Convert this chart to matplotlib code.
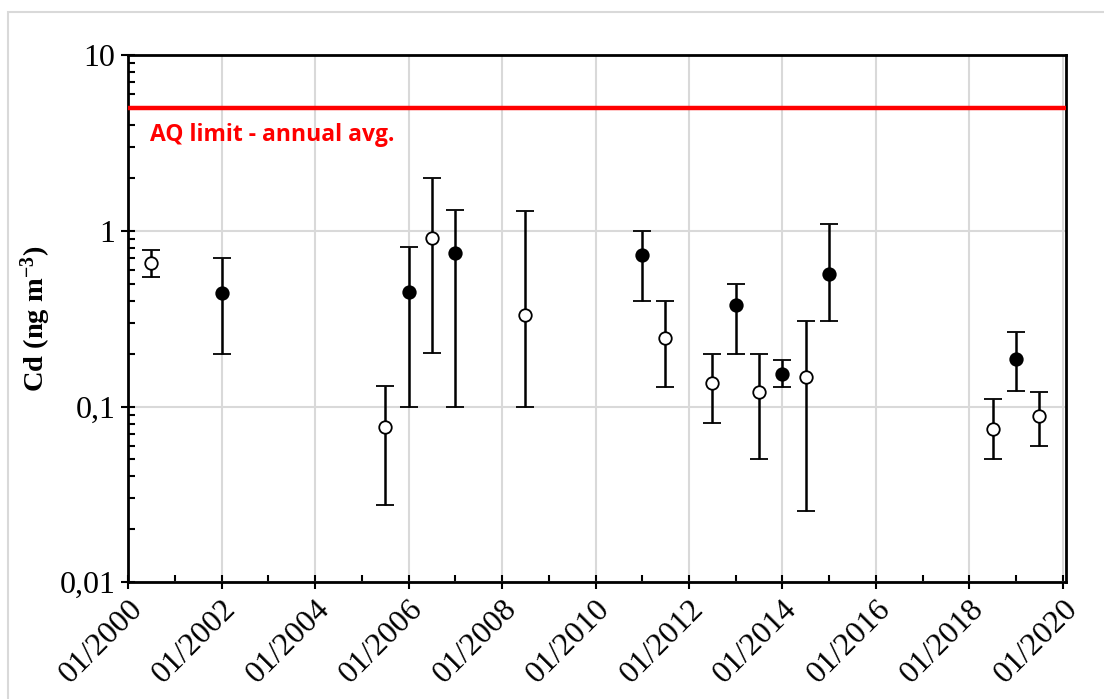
"""
Cd concentrations with min/max ranges, log scale
"""

import matplotlib
matplotlib.use("Agg")
import matplotlib.pyplot as plt
import matplotlib.dates as mdates
import matplotlib.ticker as ticker
from matplotlib.patches import Rectangle
import numpy as np
import pandas as pd


# sampling dates (January = filled, July = open)
dates_filled = ["2002-01-01", "2006-01-01", "2007-01-01", "2011-01-01", "2013-01-01",
                "2014-01-01", "2015-01-01", "2019-01-01"]
cd_filled = [0.446, 0.448, 0.746, 0.73, 0.377, 0.153, 0.571, 0.186]
lo_filled = [0.20, 0.10, 0.10, 0.40, 0.20, 0.13, 0.307, 0.122]
hi_filled = [0.70, 0.81, 1.32, 1.00, 0.50, 0.184, 1.09, 0.265]

dates_open = ["2000-07-01", "2005-07-01", "2006-07-01", "2008-07-01", "2011-07-01",
              "2012-07-01", "2013-07-01", "2014-07-01", "2018-07-01", "2019-07-01"]
cd_open = [0.655, 0.0766, 0.916, 0.33, 0.247, 0.137, 0.121, 0.148, 0.075, 0.0885]
lo_open = [0.547, 0.0274, 0.203, 0.10, 0.13, 0.0806, 0.0505, 0.0255, 0.0505, 0.06]
hi_open = [0.783, 0.1306, 2.0, 1.29, 0.40, 0.20, 0.20, 0.307, 0.110, 0.1217]

aq_limit = 5.0
aq_label = "AQ limit - annual avg."
ytick_vals = [0.01, 0.1, 1, 10]
ytick_labels = ["0,01", "0,1", "1", "10"]


fig = plt.figure(figsize=(11.04, 6.99), dpi=100)
# light gray chart frame
fig.patches.append(Rectangle((8 / 1104, -0.1), 1.2, 1.1 - 12 / 699, transform=fig.transFigure,
                             fill=False, edgecolor="#d9d9d9", linewidth=1.5))

ax = fig.add_axes([0.116, 0.167, 0.8495, 0.754])

# limit line
ax.axhline(aq_limit, color="#ff0000", linewidth=3.2, zorder=3)
ax.text(pd.Timestamp("2000-06-20"), 3.25, aq_label, color="#ff0000", fontsize=16.5,
        fontweight="bold", family="Open Sans", va="baseline", ha="left")


def draw_series(dates, vals, lo, hi, face):
    x = pd.to_datetime(dates)
    vals = np.array(vals)
    yerr = [vals - np.array(lo), np.array(hi) - vals]
    ax.errorbar(x, vals, yerr=yerr, fmt="o", color="black", ecolor="black",
                elinewidth=1.8, capsize=6.5, capthick=3, markersize=9,
                markerfacecolor=face, markeredgecolor="black", markeredgewidth=1.3,
                zorder=4)


draw_series(dates_open, cd_open, lo_open, hi_open, "white")
draw_series(dates_filled, cd_filled, lo_filled, hi_filled, "black")

# axes
ax.set_yscale("log")
ax.set_ylim(0.01, 10)
ax.set_xlim(pd.Timestamp("2000-01-01"), pd.Timestamp("2020-01-25"))

ax.set_yticks(ytick_vals)
ax.set_yticklabels(ytick_labels)
ax.yaxis.set_minor_locator(ticker.LogLocator(base=10, subs=np.arange(2, 10)))
ax.yaxis.set_minor_formatter(ticker.NullFormatter())

ax.xaxis.set_major_locator(mdates.YearLocator(2))
ax.xaxis.set_minor_locator(mdates.YearLocator(1))
ax.xaxis.set_major_formatter(mdates.DateFormatter("%m/%Y"))

ax.tick_params(axis="both", which="major", direction="inout", length=10, width=1.5,
               labelsize=23, pad=4)
ax.tick_params(axis="both", which="minor", direction="in", length=5, width=1.5)
for lab in ax.get_xticklabels() + ax.get_yticklabels():
    lab.set_family("Liberation Serif")
plt.setp(ax.get_xticklabels(), rotation=45, ha="right", rotation_mode="anchor")

ax.grid(True, which="major", color="#d9d9d9", linewidth=1.5, zorder=0)
ax.set_axisbelow(True)
for side in ["left", "bottom", "top", "right"]:
    ax.spines[side].set_linewidth(2)

plt.rcParams["mathtext.default"] = "regular"
ax.set_ylabel("Cd (ng m$^{-3}$)", family="Liberation Serif", fontweight="bold",
              fontsize=20.5, labelpad=5)

plt.savefig("out.png", dpi=100)
plt.close()
